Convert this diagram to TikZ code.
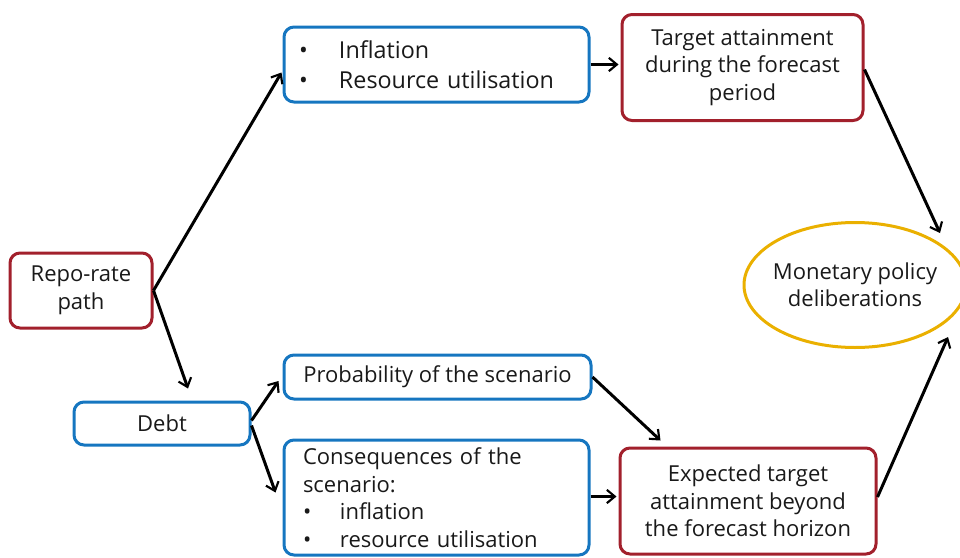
\documentclass[tikz,border=0pt]{standalone}
\usepackage{fontspec}
\setmainfont{Open Sans}
\usetikzlibrary{arrows.meta,shapes.geometric,calc}
\definecolor{boxred}{RGB}{162,32,44}
\definecolor{boxblue}{RGB}{22,118,192}
\definecolor{boxgold}{RGB}{234,176,0}
\begin{document}
\begin{tikzpicture}[x=0.75pt,y=-0.75pt,
    every node/.style={font=\fontsize{16.5}{20.6}\selectfont,text=black!90},
    redbox/.style={draw=boxred,line width=2.25pt,rounded corners=7.5pt,align=center},
    bluebox/.style={draw=boxblue,line width=2.25pt,rounded corners=7.5pt,align=center},
    goldoval/.style={draw=boxgold,line width=2.25pt,ellipse,align=center},
    link/.style={-{Straight Barb[length=6pt,width=10pt,line width=1.6pt]},line width=2.25pt}]
  \useasboundingbox (0,0) rectangle (960,557);
  \draw
    (81,290.5) node[redbox,minimum width=142*0.75pt,minimum height=75*0.75pt] (repo){Repo-rate\\path}
    (162,423.5) node[bluebox,minimum width=176*0.75pt,minimum height=43*0.75pt] (debt){Debt}
    (436.5,64.5) node[bluebox,minimum width=305*0.75pt,minimum height=75*0.75pt,
      text width=267*0.75pt,inner xsep=19*0.75pt,align=left,font=\fontsize{17.5}{22.5}\selectfont] (infl)
      {\hspace*{-3pt}\makebox[30pt][l]{\textbullet}Inflation\\\hspace*{-3pt}\makebox[30pt][l]{\textbullet}Resource utilisation}
    (742.5,67.5) node[redbox,minimum width=241*0.75pt,minimum height=106*0.75pt] (target)
      {Target attainment\\during the forecast\\period}
    (437.5,377) node[bluebox,minimum width=307*0.75pt,minimum height=44*0.75pt] (prob)
      {Probability of the scenario}
    (436.5,497.5) node[bluebox,minimum width=305*0.75pt,minimum height=115*0.75pt,
      text width=267*0.75pt,inner xsep=19*0.75pt,align=left] (cons)
      {Consequences of the\\scenario:\\\makebox[27.75pt][l]{\textbullet}inflation\\
       \makebox[27.75pt][l]{\textbullet}resource utilisation}
    (748,501) node[redbox,minimum width=256*0.75pt,minimum height=106*0.75pt] (expt)
      {Expected target\\attainment beyond\\the forecast horizon}
    (855,285) node[goldoval,minimum width=222*0.75pt,minimum height=125*0.75pt,inner xsep=-10pt,inner ysep=0pt] (mon)
      {Monetary policy\\deliberations};
  \begin{scope}[link]
    \draw (repo.east) -- ($(infl.west)+(-1,8)$);
    \draw (repo.east) -- ($(debt.north)+(26,-12)$);
    \draw ($(debt.east)+(0,-3)$) -- ($(prob.west)+(-4,4)$);
    \draw ($(debt.east)+(0,2)$) -- ($(cons.west)+(-7,-5)$);
    \draw (infl.east) -- ($(infl.east -| target.west)+(-2,0)$);
    \draw ($(target.east)+(0,2)$) -- ($(mon.center)+(85,-52)$);
    \draw (prob.east) -- ($(expt.north west)+(42,-6)$);
    \draw ($(cons.east)+(0,-1)$) -- ($(cons.east -| expt.west)+(-2,-1)$);
    \draw ($(expt.east)+(0,-4)$) -- ($(mon.center)+(93,52)$);
  \end{scope}
\end{tikzpicture}
\end{document}
